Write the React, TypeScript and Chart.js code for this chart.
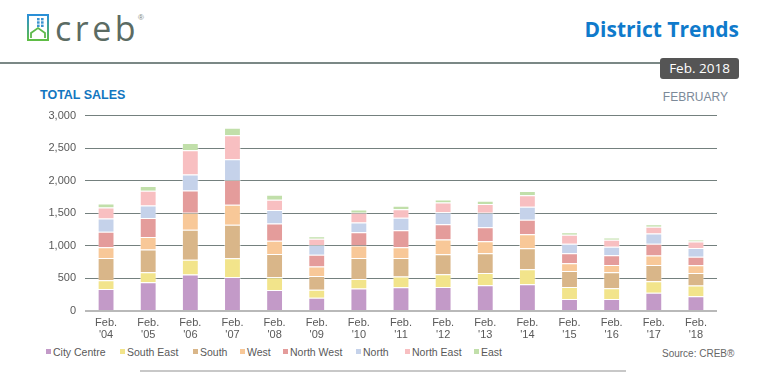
import React, { useEffect, useRef } from "react";
import { Chart, registerables } from "chart.js";

Chart.register(...registerables);

const years = ["'04", "'05", "'06", "'07", "'08", "'09", "'10", "'11", "'12", "'13", "'14", "'15", "'16", "'17", "'18"];
const categories = years.map((y) => ["Feb.", y]);

const cityCentre = [338, 441, 559, 523, 323, 205, 344, 364, 369, 395, 410, 185, 185, 282, 226];
const southEast = [134, 154, 226, 287, 195, 123, 148, 164, 195, 190, 231, 184, 164, 174, 164];
const south = [343, 349, 461, 513, 359, 210, 323, 287, 308, 302, 323, 246, 246, 252, 195];
const west = [164, 194, 262, 308, 200, 144, 190, 164, 225, 185, 215, 118, 113, 143, 118];
const northWest = [236, 288, 343, 379, 267, 180, 205, 262, 236, 215, 221, 154, 148, 180, 128];
const north = [205, 194, 246, 318, 205, 153, 149, 190, 185, 221, 200, 144, 129, 159, 138];
const northEast = [170, 226, 370, 369, 159, 93, 149, 133, 149, 133, 179, 138, 107, 102, 98];
const east = [61, 72, 112, 118, 77, 41, 51, 51, 46, 51, 62, 41, 36, 41, 30];

const seriesNames = ["City Centre", "South East", "South", "West", "North West", "North", "North East", "East"];
const seriesValues = [cityCentre, southEast, south, west, northWest, north, northEast, east];
const seriesColors = ["#c39ac8", "#f2e48b", "#d9b689", "#f8c898", "#e49c9b", "#c5d2ea", "#f8bfc1", "#c1dfaa"];

const yTicks = [0, 500, 1000, 1500, 2000, 2500, 3000];

const legendX = [46, 120, 193, 240, 283, 356, 405, 474];

const font = "'Liberation Sans', Arial, sans-serif";

function ChartCanvas() {
  const ref = useRef<HTMLCanvasElement | null>(null);
  useEffect(() => {
    if (!ref.current) return;
    const chart = new Chart(ref.current, {
      type: "bar",
      data: {
        labels: categories,
        datasets: seriesNames.map((name, i) => ({
          label: name,
          data: seriesValues[i],
          backgroundColor: seriesColors[i],
          borderColor: "rgba(255,255,255,0.45)",
          borderWidth: 1,
          categoryPercentage: 1,
          barPercentage: 0.4,
        })),
      },
      options: {
        responsive: false,
        maintainAspectRatio: false,
        animation: false,
        devicePixelRatio: 1,
        layout: { padding: { top: 0, right: 13, bottom: 0, left: 0 } },
        plugins: { legend: { display: false }, tooltip: { enabled: false } },
        scales: {
          x: {
            stacked: true,
            grid: { display: false, drawTicks: false },
            border: { display: false },
            ticks: {
              color: "#595959",
              font: { family: font, size: 11, lineHeight: 1.1 },
              padding: 6,
              maxRotation: 0,
              autoSkip: false,
            },
            afterFit: (s: any) => {
              s.height = 34;
            },
          },
          y: {
            stacked: true,
            min: 0,
            max: 3000,
            afterBuildTicks: (s: any) => {
              s.ticks = yTicks.map((v) => ({ value: v }));
            },
            grid: {
              drawTicks: false,
              color: (c: any) => (c.tick && c.tick.value === 0 ? "#b9b9b9" : "#74807e"),
              lineWidth: (c: any) => (c.tick && c.tick.value === 0 ? 2 : 1),
            },
            border: { display: false },
            ticks: {
              color: "#595959",
              font: { family: font, size: 11 },
              padding: 9,
              callback: (v: any) => Number(v).toLocaleString("en-US"),
            },
            afterFit: (s: any) => {
              s.width = 55;
            },
          },
        },
      },
    });
    return () => chart.destroy();
  }, []);
  return (
    <canvas
      ref={ref}
      width={700}
      height={245}
      style={{ position: "absolute", left: 30, top: 100, width: 700, height: 245 }}
    />
  );
}

function Logo() {
  return (
    <svg width="24" height="28" viewBox="0 0 24 28" style={{ position: "absolute", left: 27, top: 14 }}>
      <defs>
        <linearGradient id="lg" x1="0" y1="0" x2="0" y2="1">
          <stop offset="0" stopColor="#2a8fd8" />
          <stop offset="1" stopColor="#5fbd45" />
        </linearGradient>
      </defs>
      <rect x="1" y="1" width="20" height="25" fill="none" stroke="url(#lg)" strokeWidth="2" />
      {[0, 1, 2].map((r) =>
        [0, 1].map((c) => (
          <rect key={r + "-" + c} x={10 + c * 4} y={4 + r * 3.3} width="2.6" height="2.4" fill="#3a93d0" />
        ))
      )}
      <path d="M4 24 L4 19 L11 14 L18 19 L18 24" fill="none" stroke="#5db94a" strokeWidth="1.8" />
    </svg>
  );
}

export default function App() {
  return (
    <div
      style={{
        position: "absolute",
        left: 0,
        top: 0,
        width: 776,
        height: 379,
        background: "#fff",
        fontFamily: font,
        overflow: "hidden",
      }}
    >
      <Logo />
      <div
        style={{
          position: "absolute",
          left: 55,
          top: 8,
          fontFamily: "'Open Sans', sans-serif",
          fontSize: 34,
          lineHeight: "40px",
          letterSpacing: 3.5,
          color: "#5b6b63",
        }}
      >
        creb
      </div>
      <div style={{ position: "absolute", left: 138, top: 13, fontSize: 8, color: "#7a8580" }}>®</div>
      <div
        style={{
          position: "absolute",
          right: 37,
          top: 17,
          fontFamily: "'Open Sans', sans-serif",
          fontWeight: 700,
          fontSize: 21,
          lineHeight: "24px",
          color: "#0f7acb",
        }}
      >
        District Trends
      </div>
      <div style={{ position: "absolute", left: 0, top: 62, width: 662, height: 2, background: "#7b8886" }} />
      <div
        style={{
          position: "absolute",
          left: 660,
          top: 58,
          width: 79,
          height: 21,
          borderRadius: 3,
          background: "#555555",
          color: "#fff",
          fontFamily: "'Open Sans', sans-serif",
          fontSize: 13.5,
          lineHeight: "21px",
          textAlign: "center",
        }}
      >
        Feb. 2018
      </div>
      <div
        style={{
          position: "absolute",
          left: 40,
          top: 88,
          fontWeight: 700,
          fontSize: 12.5,
          lineHeight: "14px",
          color: "#1276c0",
        }}
      >
        TOTAL SALES
      </div>
      <div
        style={{
          position: "absolute",
          right: 48,
          top: 90,
          fontSize: 12,
          lineHeight: "14px",
          color: "#7c8a99",
        }}
      >
        FEBRUARY
      </div>
      <ChartCanvas />
      {seriesNames.map((name, i) => (
        <div
          key={name}
          style={{
            position: "absolute",
            left: legendX[i],
            top: 345,
            height: 13,
            display: "flex",
            alignItems: "center",
            fontSize: 10.5,
            color: "#595959",
            whiteSpace: "nowrap",
          }}
        >
          <span style={{ display: "inline-block", width: 5, height: 5, background: seriesColors[i], marginRight: 2 }} />
          {name}
        </div>
      ))}
      <div style={{ position: "absolute", left: 662, top: 348, fontSize: 10, lineHeight: "12px", color: "#666" }}>
        Source: CREB®
      </div>
      <div style={{ position: "absolute", left: 140, top: 370, width: 486, height: 2, background: "#c8c8c8" }} />
    </div>
  );
}
